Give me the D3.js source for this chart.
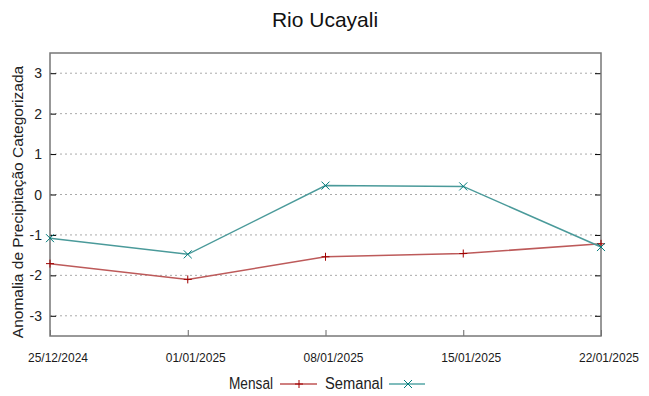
<!DOCTYPE html>
<html>
<head>
<meta charset="utf-8">
<script src="https://cdn.jsdelivr.net/npm/d3@7"></script>
<style>
  body { margin: 0; background: #fff; }
  text { font-family: "Liberation Sans", Arial, sans-serif; }
</style>
</head>
<body>
<div id="chart"></div>
<script>
const dates = ['2024-12-25', '2025-01-01', '2025-01-08', '2025-01-15', '2025-01-22'];
const mensal = [-1.71, -2.10, -1.54, -1.46, -1.22];
const semanal = [-1.08, -1.48, 0.22, 0.20, -1.30];
const yTicks = [-3, -2, -1, 0, 1, 2, 3];

const width = 649;
const height = 396;
const plotLeft = 50, plotRight = 601, plotTop = 53, plotBottom = 336;

const parse = d3.utcParse('%Y-%m-%d');
const xDates = dates.map(parse);

const svg = d3.select('#chart')
  .append('svg')
  .attr('width', width)
  .attr('height', height)

const xScale = d3.scaleUtc()
  .domain([xDates[0], xDates[xDates.length - 1]])
  .range([plotLeft, plotRight])

const yScale = d3.scaleLinear()
  .domain([-3.5, 3.5])
  .range([plotBottom, plotTop])

// title
svg.append('text')
  .text('Rio Ucayali')
  .attr('x', 325)
  .attr('y', 27)
  .attr('text-anchor', 'middle')
  .style('font-size', '21px')
  .style('fill', '#111')

// grid lines
svg.append('g')
  .selectAll('line')
  .data(yTicks)
  .enter()
  .append('line')
  .attr('x1', plotLeft)
  .attr('x2', plotRight)
  .attr('y1', d => yScale(d))
  .attr('y2', d => yScale(d))
  .style('stroke', '#aaa')
  .style('stroke-width', 1)
  .style('stroke-dasharray', '2,3')

// y axis (left, ticks inward)
const yAxis = d3.axisRight(yScale).tickValues(yTicks).tickSize(6).tickFormat('');
const yg = svg.append('g')
  .attr('id', 'y-axis')
  .attr('transform', 'translate(' + plotLeft + ',0)')
  .call(yAxis)
yg.select('.domain').remove()
yg.selectAll('line').style('stroke', '#000')

svg.append('g')
  .selectAll('text')
  .data(yTicks)
  .enter()
  .append('text')
  .text(d => d)
  .attr('x', 42)
  .attr('y', d => yScale(d) + 5)
  .attr('text-anchor', 'end')
  .style('font-size', '14px')
  .style('fill', '#222')

// mirrored right ticks
const yAxisR = d3.axisLeft(yScale).tickValues(yTicks).tickSize(6).tickFormat('');
const yr = svg.append('g')
  .attr('transform', 'translate(' + plotRight + ',0)')
  .call(yAxisR)
yr.select('.domain').remove()
yr.selectAll('line').style('stroke', '#000')

// x axis ticks (inward from bottom)
const xAxis = d3.axisTop(xScale).tickValues(xDates).tickSize(6).tickFormat('');
const xg = svg.append('g')
  .attr('id', 'x-axis')
  .attr('transform', 'translate(0,' + plotBottom + ')')
  .call(xAxis)
xg.select('.domain').remove()
xg.selectAll('line').style('stroke', '#666')

// x labels (narrow, slightly right of tick)
svg.append('g')
  .selectAll('text')
  .data(xDates)
  .enter()
  .append('text')
  .text(d => d3.utcFormat('%d/%m/%Y')(d))
  .attr('x', d => xScale(d) - 22)
  .attr('y', 362)
  .attr('textLength', 60)
  .attr('lengthAdjust', 'spacingAndGlyphs')
  .style('font-size', '13.5px')
  .style('fill', '#1a1a1a')

// frame
svg.append('rect')
  .attr('x', plotLeft)
  .attr('y', plotTop)
  .attr('width', plotRight - plotLeft)
  .attr('height', plotBottom - plotTop)
  .style('fill', 'none')
  .style('stroke', '#777')
  .style('stroke-width', 1.5)

// y label
svg.append('text')
  .text('Anomalia de Precipitação Categorizada')
  .attr('transform', 'translate(23,202) rotate(-90)')
  .attr('text-anchor', 'middle')
  .style('font-size', '15.5px')
  .style('fill', '#222')

const line = d3.line()
  .x((d, i) => xScale(xDates[i]))
  .y(d => yScale(d))

const series = [
  { name: 'Mensal', values: mensal, line: '#bd5a5a', mark: '#a00000', type: 'plus' },
  { name: 'Semanal', values: semanal, line: '#4a9a9a', mark: '#007b7b', type: 'cross' }
];

const marker = (g, x, y, type, color) => {
  const s = 4;
  if (type === 'plus') {
    g.append('path')
      .attr('d', `M${x - s},${y}H${x + s}M${x},${y - s}V${y + s}`)
      .style('stroke', color).style('stroke-width', 1)
  } else {
    g.append('path')
      .attr('d', `M${x - s},${y - s}L${x + s},${y + s}M${x - s},${y + s}L${x + s},${y - s}`)
      .style('stroke', color).style('stroke-width', 1)
  }
}

series.forEach(s => {
  svg.append('path')
    .datum(s.values)
    .attr('d', line)
    .style('fill', 'none')
    .style('stroke', s.line)
    .style('stroke-width', 1.5)
  const g = svg.append('g')
  s.values.forEach((v, i) => marker(g, xScale(xDates[i]), yScale(v), s.type, s.mark))
})

// legend
const legend = svg.append('g')
legend.append('text').text('Mensal')
  .attr('x', 229).attr('y', 389)
  .attr('textLength', 44).attr('lengthAdjust', 'spacingAndGlyphs')
  .style('font-size', '16px').style('fill', '#222')
legend.append('line').attr('x1', 280).attr('x2', 317).attr('y1', 384).attr('y2', 384)
  .style('stroke', '#a00000').style('stroke-width', 1.2)
marker(legend, 299, 384, 'plus', '#a00000')
legend.append('text').text('Semanal')
  .attr('x', 325).attr('y', 389)
  .attr('textLength', 58).attr('lengthAdjust', 'spacingAndGlyphs')
  .style('font-size', '16px').style('fill', '#222')
legend.append('line').attr('x1', 389).attr('x2', 425).attr('y1', 384).attr('y2', 384)
  .style('stroke', '#007b7b').style('stroke-width', 1.2)
marker(legend, 408, 384, 'cross', '#007b7b')
</script>
</body>
</html>
